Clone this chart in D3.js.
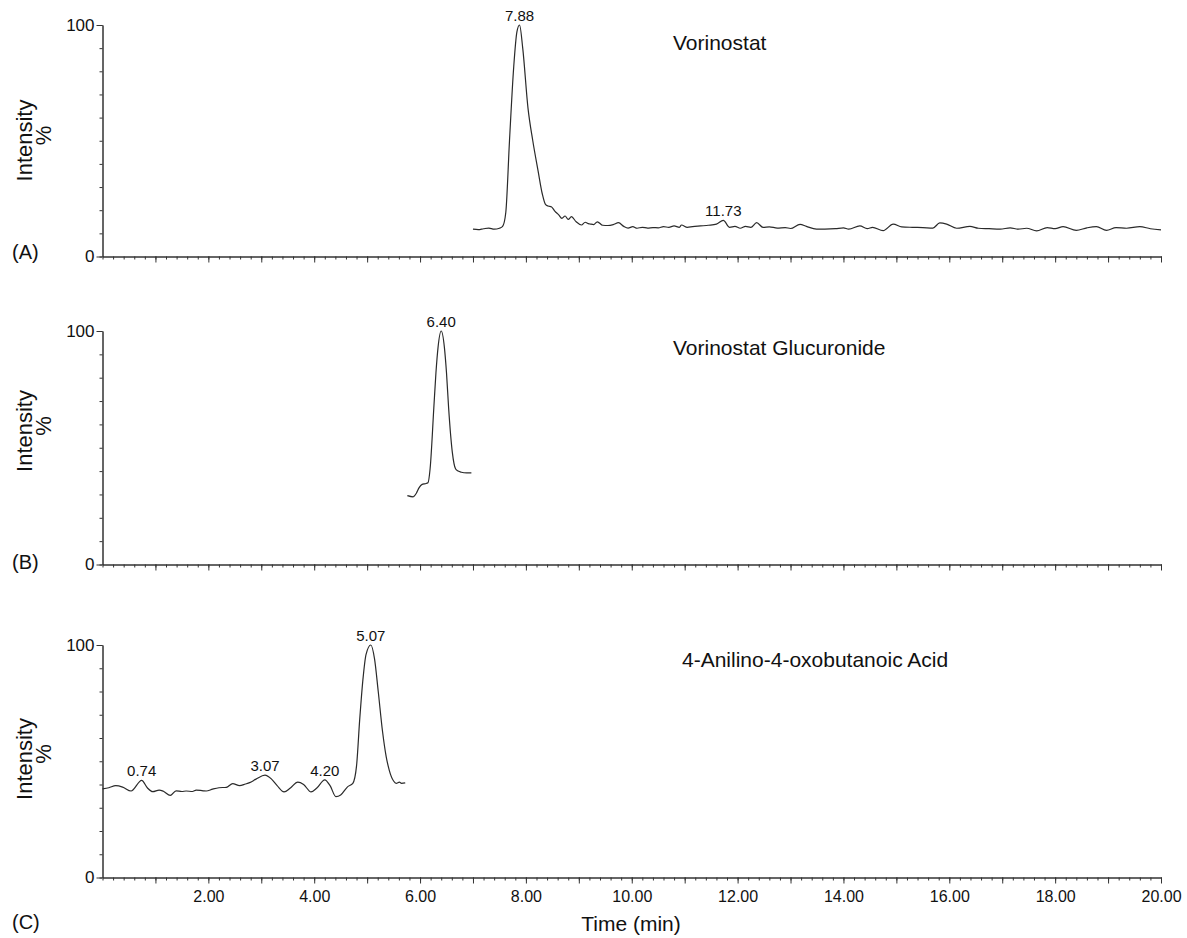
<!DOCTYPE html>
<html>
<head>
<meta charset="utf-8">
<script src="https://cdn.jsdelivr.net/npm/d3@7"></script>
<style>
  body { margin: 0; background: #fff; }
  text { font-family: "Liberation Sans", Arial, sans-serif; fill: #111; }
</style>
</head>
<body>
<div id="chart"></div>
<script>
// chromatograms: retention time (min) vs relative intensity (%)

var timeA = [7.00, 7.10, 7.20, 7.30, 7.40, 7.50, 7.56, 7.62, 7.69, 7.77, 7.83, 7.88, 7.94, 8.04, 8.13, 8.23, 8.31, 8.37, 8.42, 8.48,
    8.55, 8.62, 8.68, 8.74, 8.80, 8.86, 8.95, 9.05, 9.12, 9.18, 9.22, 9.28, 9.35, 9.45, 9.55, 9.65, 9.75, 9.85, 9.93, 10.02,
    10.10, 10.20, 10.30, 10.40, 10.50, 10.60, 10.70, 10.80, 10.90, 10.94, 11.05, 11.15, 11.30, 11.45, 11.60, 11.73, 11.85, 11.95, 12.05, 12.15,
    12.25, 12.36, 12.48, 12.60, 12.75, 12.90, 13.00, 13.18, 13.30, 13.49, 13.65, 13.85, 14.00, 14.10, 14.31, 14.45, 14.55, 14.75, 14.94, 15.10,
    15.30, 15.50, 15.69, 15.82, 15.95, 16.14, 16.39, 16.55, 16.75, 16.96, 17.15, 17.30, 17.46, 17.65, 17.85, 18.00, 18.15, 18.40, 18.60, 18.78,
    18.97, 19.15, 19.35, 19.60, 19.80, 20.00];
var intensityA = [11.8, 11.6, 12.0, 12.3, 11.8, 12.2, 13.0, 19, 50, 82, 97, 100, 90, 64, 50, 37, 27, 22.5, 21.8, 21.5,
    19.5, 18.0, 16.5, 17.5, 16.0, 17.2, 15.0, 13.6, 14.8, 14.2, 14.0, 13.8, 15.0, 13.5, 13.4, 13.8, 14.6, 13.0, 12.3, 12.9,
    12.2, 12.6, 12.3, 12.5, 12.4, 12.9, 12.6, 13.2, 12.6, 13.6, 12.6, 12.9, 13.2, 13.5, 14.0, 15.6, 12.6, 13.0, 12.2, 13.0,
    12.6, 14.6, 12.6, 12.8, 12.3, 12.5, 12.1, 13.9, 13.0, 11.8, 11.8, 12.0, 12.4, 11.8, 13.2, 12.0, 12.6, 11.2, 14.0, 12.8,
    12.6, 12.5, 12.3, 14.5, 14.0, 12.2, 13.0, 12.2, 12.0, 11.8, 12.4, 11.8, 12.2, 11.1, 12.5, 12.0, 12.9, 11.3, 12.4, 12.9,
    11.3, 12.5, 12.2, 12.9, 12.0, 11.5];

var timeB = [5.76, 5.87, 5.93, 5.98, 6.04, 6.10, 6.15, 6.19, 6.26, 6.30, 6.34, 6.40, 6.46, 6.50, 6.54, 6.61, 6.67, 6.72, 6.78, 6.88, 6.97];
var intensityB = [29.5, 29.0, 30.5, 32.8, 34.3, 34.6, 35.0, 41, 67, 82, 93, 100, 93, 82, 67, 48, 41, 40, 39.5, 39.2, 39.2];

var timeC = [0.00, 0.12, 0.25, 0.38, 0.54, 0.74, 0.85, 0.95, 1.07, 1.15, 1.28, 1.39, 1.50, 1.58, 1.70, 1.77, 1.90, 1.96, 2.08, 2.20,
    2.34, 2.46, 2.59, 2.70, 2.78, 2.90, 3.07, 3.19, 3.30, 3.43, 3.55, 3.69, 3.80, 3.94, 4.05, 4.20, 4.30, 4.41, 4.50, 4.63,
    4.73, 4.80, 4.86, 4.92, 4.98, 5.07, 5.14, 5.21, 5.29, 5.36, 5.42, 5.50, 5.55, 5.61, 5.65, 5.72];
var intensityC = [38.1, 38.6, 39.5, 38.9, 37.2, 41.8, 38.5, 36.9, 37.6, 37.1, 35.3, 37.3, 37.0, 37.2, 37.0, 37.6, 37.3, 37.2, 38.0, 38.6,
    38.8, 40.4, 39.5, 40.2, 40.8, 42.3, 44.0, 42.4, 39.5, 36.8, 38.5, 41.0, 40.0, 36.8, 38.5, 42.0, 39.5, 34.8, 35.5, 39.0,
    40.5, 48, 68, 85, 96, 100, 94, 80, 63, 52, 46, 41.5, 40.5, 41.0, 40.5, 40.7];

var peaksA = ["7.88", "11.73"];
var peaksB = ["6.40"];
var peaksC = ["0.74", "3.07", "4.20", "5.07"];

var titles = ["Vorinostat", "Vorinostat Glucuronide", "4-Anilino-4-oxobutanoic Acid"];
var panelLetters = ["(A)", "(B)", "(C)"];
var yTickLabels = [0, 100];
var xTickLabels = ["2.00", "4.00", "6.00", "8.00", "10.00", "12.00", "14.00", "16.00", "18.00", "20.00"];

var width = 1187, height = 938;

var svg = d3.select("#chart").append("svg")
    .attr("width", width)
    .attr("height", height);

var x = d3.scaleLinear().domain([0, 20]).range([102.5, 1161]);

// per-panel layout
var panels = [
    { time: timeA, values: intensityA, peaks: peaksA, top: 25, bottom: 256.5, titleX: 673, titleY: 50, labelMid: 140.5, letterY: 259 },
    { time: timeB, values: intensityB, peaks: peaksB, top: 331, bottom: 564.5, titleX: 673, titleY: 355, labelMid: 431, letterY: 569 },
    { time: timeC, values: intensityC, peaks: peaksC, top: 645, bottom: 877.5, titleX: 682, titleY: 667, labelMid: 759, letterY: 929 }
];

var line = d3.line().curve(d3.curveMonotoneX);

panels.forEach(function (p, i) {
    var y = d3.scaleLinear().domain([0, 100]).range([p.bottom, p.top]);
    var g = svg.append("g");

    // x axis: minor ticks every 0.2 min, major every 1 min
    g.append("g")
        .attr("transform", "translate(0," + p.bottom + ")")
        .call(d3.axisBottom(x).tickValues(d3.range(0, 101).map(function (d) { return d * 0.2; }))
            .tickSize(3).tickSizeOuter(0).tickFormat(""));
    g.append("g")
        .attr("class", "xmajor")
        .attr("transform", "translate(0," + p.bottom + ")")
        .call(d3.axisBottom(x).tickValues(d3.range(1, 21)).tickSize(6).tickSizeOuter(0).tickPadding(7)
            .tickFormat(function (d) {
                if (i < 2) return "";
                var s = d.toFixed(2);
                return xTickLabels.indexOf(s) >= 0 ? s : "";
            }));

    // y axis
    g.append("g")
        .attr("transform", "translate(" + x(0) + ",0)")
        .call(d3.axisLeft(y).tickValues(d3.range(0, 101, 10)).tickSize(3).tickSizeOuter(0).tickFormat(""));
    g.append("g")
        .attr("class", "ylab")
        .attr("transform", "translate(" + x(0) + ",0)")
        .call(d3.axisLeft(y).tickValues(yTickLabels).tickSize(6).tickSizeOuter(0).tickPadding(2)
            .tickFormat(d3.format("d")));

    g.selectAll(".domain, .tick line").attr("stroke", "#333").attr("stroke-width", 1);
    g.selectAll(".xmajor text").style("font-size", "16px").attr("fill", "#111");
    g.selectAll(".ylab text").style("font-size", "17px").attr("fill", "#111");
    g.selectAll(".tick text").style("font-family", "'Liberation Sans', Arial, sans-serif");

    // trace
    var pts = p.time.map(function (t, k) { return [x(t), y(p.values[k])]; });
    g.append("path")
        .attr("d", line(pts))
        .attr("fill", "none")
        .attr("stroke", "#2a2a2a")
        .attr("stroke-width", 1.2);

    // peak labels at the local maximum near each retention time
    p.peaks.forEach(function (lab) {
        var t = +lab, best = 0;
        p.time.forEach(function (tt, k) {
            if (Math.abs(tt - t) <= 0.1) best = Math.max(best, p.values[k]);
        });
        g.append("text")
            .attr("x", x(t))
            .attr("y", y(best) - 4)
            .attr("text-anchor", "middle")
            .style("font-size", "15px")
            .text(lab);
    });

    // compound name
    g.append("text")
        .attr("x", p.titleX)
        .attr("y", p.titleY)
        .style("font-size", "21px")
        .text(titles[i]);

    // y label (two rotated lines)
    g.append("text")
        .attr("transform", "translate(32," + p.labelMid + ") rotate(-90)")
        .attr("text-anchor", "middle")
        .style("font-size", "22px")
        .text("Intensity");
    g.append("text")
        .attr("transform", "translate(51," + (p.labelMid - 5) + ") rotate(-90)")
        .attr("text-anchor", "middle")
        .style("font-size", "22px")
        .text("%");

    // panel letter
    g.append("text")
        .attr("x", 12)
        .attr("y", p.letterY)
        .style("font-size", "20px")
        .text(panelLetters[i]);
});

// x axis title
svg.append("text")
    .attr("x", 631)
    .attr("y", 931)
    .attr("text-anchor", "middle")
    .style("font-size", "21px")
    .text("Time (min)");
</script>
</body>
</html>
